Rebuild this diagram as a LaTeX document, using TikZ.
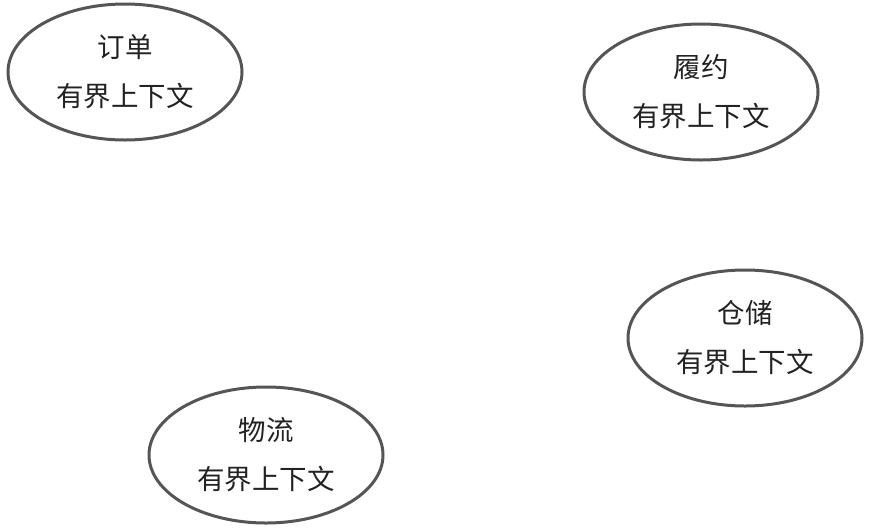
\documentclass[tikz,border=0pt]{standalone}
\usepackage{fontspec}
\newfontfamily\cjk{Noto Sans CJK SC}
\usetikzlibrary{shapes.geometric}
\definecolor{edgegray}{HTML}{555555}
\definecolor{textgray}{HTML}{222222}
\tikzset{
  ctx/.style={ellipse, draw=edgegray, line width=3pt, minimum width=234pt, minimum height=136pt,
    inner sep=0pt, align=center, text=textgray,
    font=\cjk\fontsize{27.5pt}{49pt}\selectfont}
}
\begin{document}
\begin{tikzpicture}[x=1pt,y=-1pt]
\useasboundingbox (0,0) rectangle (870,528);
\node[ctx] (order) at (125,72) {订单\\有界上下文};
\node[ctx] (fulfil) at (701,92) {履约\\有界上下文};
\node[ctx] (store) at (745,338) {仓储\\有界上下文};
\node[ctx] (logi) at (266,455) {物流\\有界上下文};
\end{tikzpicture}
\end{document}
